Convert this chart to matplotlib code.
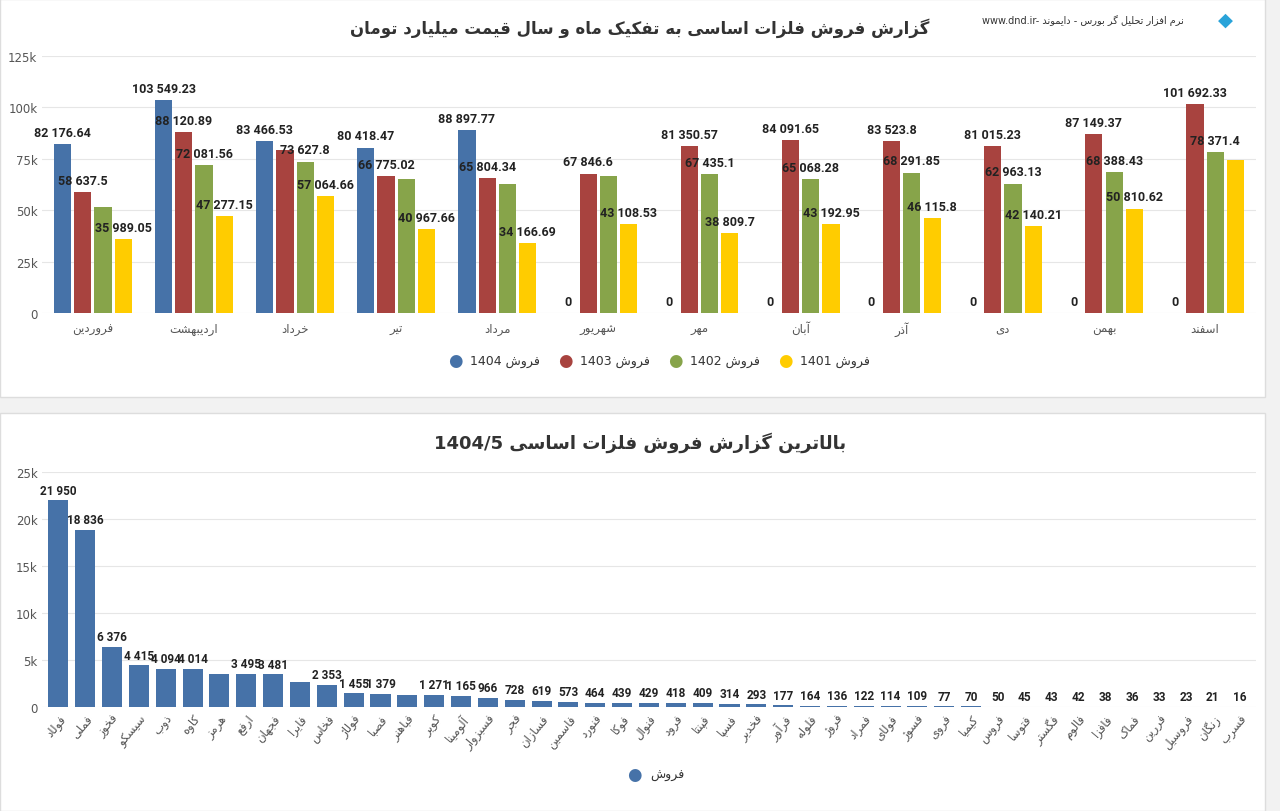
import matplotlib.pyplot as plt
import numpy as np
from matplotlib import font_manager
from matplotlib.patches import FancyBboxPatch

# ---- data ----
months = ["فروردین", "اردیبهشت", "خرداد", "تیر", "مرداد", "شهریور",
          "مهر", "آبان", "آذر", "دی", "بهمن", "اسفند"]
sales_1404 = [82176.64, 103549.23, 83466.53, 80418.47, 88897.77, 0, 0, 0, 0, 0, 0, 0]
sales_1403 = [58637.5, 88120.89, 79500, 66775.02, 65804.34, 67846.6,
              81350.57, 84091.65, 83523.8, 81015.23, 87149.37, 101692.33]
sales_1402 = [51500, 72081.56, 73627.8, 65000, 63000, 66500,
              67435.1, 65068.28, 68291.85, 62963.13, 68388.43, 78371.4]
sales_1401 = [35989.05, 47277.15, 57064.66, 40967.66, 34166.69, 43108.53,
              38809.7, 43192.95, 46115.8, 42140.21, 50810.62, 74500]
# which top labels are shown (others hidden by overlap in the reference)
show_1403 = [1, 1, 0, 1, 1, 1, 1, 1, 1, 1, 1, 1]
show_1402 = [0, 1, 1, 0, 0, 0, 1, 1, 1, 1, 1, 1]
show_1401 = [1, 1, 1, 1, 1, 1, 1, 1, 1, 1, 1, 0]

symbols = ["فولاد", "فملی", "فخوز", "سیسکو", "ذوب", "کاوه", "هرمز", "ارفع", "فجهان",
           "فایرا", "فخاس", "فولاژ", "فصبا", "فباهنر", "کویر", "آلومینا", "فسبزوار",
           "فجر", "فسازان", "فاسمین", "فنورد", "فوکا", "فنوال", "فرود", "فپنتا",
           "فسپا", "فخدیر", "فرآور", "فلوله", "فروژ", "فمراد", "فولای", "فسوژ",
           "فروی", "کیمیا", "فروس", "فتوسا", "فگستر", "فالوم", "فافزا", "فماک",
           "فررین", "فروسیل", "زنگان", "فسرب"]
symbol_sales = [21950, 18836, 6376, 4415, 4094, 4014, 3550, 3495, 3481,
                2650, 2353, 1455, 1379, 1300, 1271, 1165, 966,
                728, 619, 573, 464, 439, 429, 418, 409,
                314, 293, 177, 164, 136, 122, 114, 109,
                77, 70, 50, 45, 43, 42, 38, 36,
                33, 23, 21, 16]
show_sym = [1, 1, 1, 1, 1, 1, 0, 1, 1, 0, 1, 1, 1, 0, 1, 1, 1] + [1] * 28

# ---- minimal Persian shaping (matplotlib has no RTL support) ----
FORMS = {  # isolated, final, initial, medial
    "ا": (0xFE8D, 0xFE8E, None, None), "آ": (0xFE81, 0xFE82, None, None),
    "ب": (0xFE8F, 0xFE90, 0xFE91, 0xFE92), "پ": (0xFB56, 0xFB57, 0xFB58, 0xFB59),
    "ت": (0xFE95, 0xFE96, 0xFE97, 0xFE98), "ث": (0xFE99, 0xFE9A, 0xFE9B, 0xFE9C),
    "ج": (0xFE9D, 0xFE9E, 0xFE9F, 0xFEA0), "چ": (0xFB7A, 0xFB7B, 0xFB7C, 0xFB7D),
    "ح": (0xFEA1, 0xFEA2, 0xFEA3, 0xFEA4), "خ": (0xFEA5, 0xFEA6, 0xFEA7, 0xFEA8),
    "د": (0xFEA9, 0xFEAA, None, None), "ذ": (0xFEAB, 0xFEAC, None, None),
    "ر": (0xFEAD, 0xFEAE, None, None), "ز": (0xFEAF, 0xFEB0, None, None),
    "ژ": (0xFB8A, 0xFB8B, None, None),
    "س": (0xFEB1, 0xFEB2, 0xFEB3, 0xFEB4), "ش": (0xFEB5, 0xFEB6, 0xFEB7, 0xFEB8),
    "ص": (0xFEB9, 0xFEBA, 0xFEBB, 0xFEBC), "ض": (0xFEBD, 0xFEBE, 0xFEBF, 0xFEC0),
    "ط": (0xFEC1, 0xFEC2, 0xFEC3, 0xFEC4), "ظ": (0xFEC5, 0xFEC6, 0xFEC7, 0xFEC8),
    "ع": (0xFEC9, 0xFECA, 0xFECB, 0xFECC), "غ": (0xFECD, 0xFECE, 0xFECF, 0xFED0),
    "ف": (0xFED1, 0xFED2, 0xFED3, 0xFED4), "ق": (0xFED5, 0xFED6, 0xFED7, 0xFED8),
    "ک": (0xFB8E, 0xFB8F, 0xFB90, 0xFB91), "گ": (0xFB92, 0xFB93, 0xFB94, 0xFB95),
    "ل": (0xFEDD, 0xFEDE, 0xFEDF, 0xFEE0), "م": (0xFEE1, 0xFEE2, 0xFEE3, 0xFEE4),
    "ن": (0xFEE5, 0xFEE6, 0xFEE7, 0xFEE8), "و": (0xFEED, 0xFEEE, None, None),
    "ه": (0xFEE9, 0xFEEA, 0xFEEB, 0xFEEC), "ی": (0xFBFC, 0xFBFD, 0xFBFE, 0xFBFF),
}


def shape_word(w):
    out = []
    for i, c in enumerate(w):
        if c not in FORMS:
            out.append(c)
            continue
        prev = w[i - 1] if i > 0 else ""
        nxt = w[i + 1] if i + 1 < len(w) else ""
        join_prev = prev in FORMS and FORMS[prev][2] is not None
        join_next = nxt in FORMS and FORMS[c][2] is not None
        iso, fin, ini, med = FORMS[c]
        if join_prev and join_next:
            code = med
        elif join_prev:
            code = fin
        elif join_next:
            code = ini
        else:
            code = iso
        out.append(chr(code))
    return "".join(out)


def fa(text):
    res = []
    for w in text.split(" "):
        if any(c in FORMS for c in w):
            res.append(shape_word(w)[::-1])
        else:
            res.append(w)
    return " ".join(res[::-1])


def fmt(v):
    if v == 0:
        return "0"
    s = f"{v:,.2f}".rstrip("0").rstrip(".")
    return s.replace(",", " ")


names_avail = {f.name for f in font_manager.fontManager.ttflist}
NUM_FONT = "Liberation Sans Narrow" if "Liberation Sans Narrow" in names_avail else "Roboto"

plt.rcParams["font.family"] = "DejaVu Sans"
BLUE, RED, GREEN, YELLOW = "#4672a8", "#a8433f", "#87a44a", "#ffcc00"
GRID = "#e6e6e6"

fig = plt.figure(figsize=(12.8, 8.12), dpi=100)
fig.patch.set_facecolor("#f2f2f2")
for y0, h in [(0.51, 0.49), (0.0, 0.49)]:
    fig.patches.append(FancyBboxPatch((0.0, y0), 0.988, h, boxstyle="square,pad=0",
                                      transform=fig.transFigure, fc="white", ec="#dddddd",
                                      zorder=-10))

# ---- top chart ----
ax = fig.add_axes([0.033, 0.613, 0.948, 0.317])
ax.patch.set_alpha(0)
x = np.arange(len(months))
w = 0.2
series = [(sales_1404, BLUE, [1] * 12), (sales_1403, RED, show_1403),
          (sales_1402, GREEN, show_1402), (sales_1401, YELLOW, show_1401)]
names = ["فروش 1404", "فروش 1403", "فروش 1402", "فروش 1401"]
for k, (vals, col, show) in enumerate(series):
    pos = x + (k - 1.5) * w
    ax.bar(pos, vals, width=w * 0.85, color=col, zorder=2)
    for p, v, s in zip(pos, vals, show):
        if s:
            ax.text(p, v + 2500, fmt(v), ha="center", va="bottom", fontsize=9,
                    fontweight="bold", color="#222222", zorder=3, family=NUM_FONT)
ax.set_ylim(0, 125000)
ax.set_xlim(-0.5, 11.5)
ax.set_yticks([0, 25000, 50000, 75000, 100000, 125000])
ax.set_yticklabels(["0", "25k", "50k", "75k", "100k", "125k"])
ax.set_xticks(x)
ax.set_xticklabels([fa(m) for m in months])
ax.grid(axis="y", color=GRID, zorder=0)
for s in ax.spines.values():
    s.set_visible(False)
ax.tick_params(length=0, labelsize=8.5, colors="#555555")
ax.tick_params(axis="x", pad=6)
for k, (vals, col, show) in enumerate(series):
    fig.text(0.35 + k * 0.086, 0.555, "●", color=col, fontsize=12, ha="left", va="center")
    fig.text(0.367 + k * 0.086, 0.555, fa(names[k]), fontsize=9, ha="left", va="center", color="#333333")
fig.text(0.5, 0.965, fa("گزارش فروش فلزات اساسی به تفکیک ماه و سال قیمت میلیارد تومان"),
         ha="center", va="center", fontsize=12, fontweight="bold", color="#333333")
fig.text(0.925, 0.975, "www.dnd.ir- " + fa("نرم افزار تحلیل گر بورس - دایموند"),
         ha="right", va="center", fontsize=7, color="#333333")
fig.text(0.957, 0.975, "◆", ha="center", va="center", fontsize=14, color="#29a3d9")

# ---- bottom chart ----
ax2 = fig.add_axes([0.033, 0.128, 0.948, 0.29])
ax2.patch.set_alpha(0)
xs = np.arange(len(symbols))
ax2.bar(xs, symbol_sales, width=0.75, color=BLUE, zorder=2)
for p, v, s in zip(xs, symbol_sales, show_sym):
    if s:
        ax2.text(p, v + 400, fmt(v), ha="center", va="bottom", fontsize=8.5,
                 fontweight="bold", color="#222222", zorder=3, family=NUM_FONT)
ax2.set_ylim(0, 25000)
ax2.set_xlim(-0.6, len(symbols) - 0.4)
ax2.set_yticks([0, 5000, 10000, 15000, 20000, 25000])
ax2.set_yticklabels(["0", "5k", "10k", "15k", "20k", "25k"])
ax2.set_xticks(xs)
ax2.set_xticklabels([fa(s) for s in symbols], rotation=50, ha="right", rotation_mode="anchor")
ax2.grid(axis="y", color=GRID, zorder=0)
for s in ax2.spines.values():
    s.set_visible(False)
ax2.tick_params(length=0, labelsize=8.5, colors="#555555")
fig.text(0.5, 0.455, fa("بالاترین گزارش فروش فلزات اساسی 1404/5"),
         ha="center", va="center", fontsize=13, fontweight="bold", color="#333333")
fig.text(0.49, 0.045, "●", color=BLUE, fontsize=12, ha="left", va="center")
fig.text(0.508, 0.045, fa("فروش"), fontsize=9, ha="left", va="center", color="#333333")

fig.savefig("out.png", dpi=100, facecolor=fig.get_facecolor())
